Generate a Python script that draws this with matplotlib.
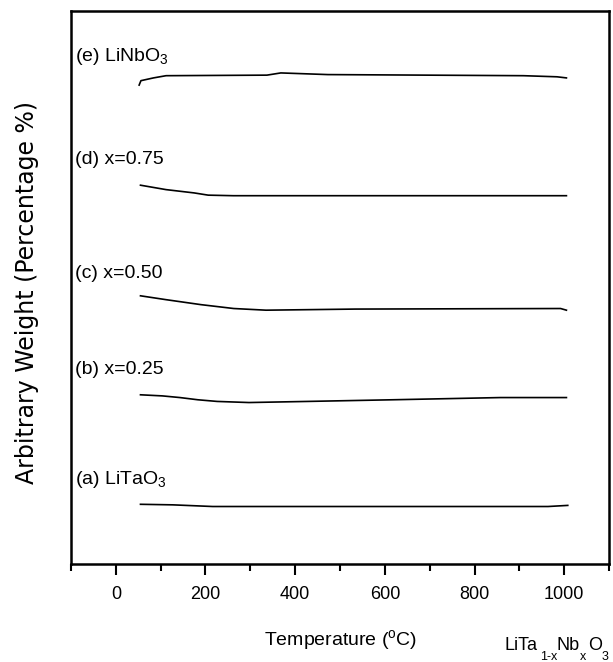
import matplotlib
matplotlib.use("Agg")
import matplotlib.pyplot as plt
from matplotlib.ticker import MultipleLocator, NullLocator

plt.rcParams["font.family"] = ["Liberation Sans", "DejaVu Sans"]
plt.rcParams["mathtext.fontset"] = "custom"
plt.rcParams["mathtext.rm"] = "Liberation Sans"

# Temperature (degC) breakpoints and arbitrary weight (stacked, arbitrary units)
T_A = [55, 127, 216, 964, 1008]
W_A = [10.8, 10.7, 10.4, 10.4, 10.6]

T_B = [55, 104, 143, 183, 226, 297, 427, 617, 858, 1005]
W_B = [30.6, 30.4, 30.1, 29.7, 29.4, 29.2, 29.4, 29.7, 30.1, 30.1]

T_C = [55, 112, 190, 263, 335, 534, 992, 1005]
W_C = [48.5, 47.8, 46.9, 46.2, 45.9, 46.1, 46.2, 45.9]

T_D = [55, 112, 175, 206, 262, 1005]
W_D = [68.5, 67.7, 67.1, 66.7, 66.6, 66.6]

T_E = [52, 56, 84, 112, 337, 368, 473, 909, 984, 1005]
W_E = [86.6, 87.4, 87.9, 88.3, 88.4, 88.8, 88.5, 88.3, 88.1, 87.9]

LABELS = [r"(a) LiTaO$_\mathregular{3}$", "(b) x=0.25", "(c) x=0.50",
          "(d) x=0.75", r"(e) LiNbO$_\mathregular{3}$"]
LABEL_Y = [15.2, 35.1, 52.6, 73.1, 91.7]

fig = plt.figure(figsize=(6.13, 6.62), dpi=100)
ax = fig.add_axes([0.1158, 0.148, 0.8777, 0.8354])

for T, W in [(T_A, W_A), (T_B, W_B), (T_C, W_C), (T_D, W_D), (T_E, W_E)]:
    ax.plot(T, W, color="black", lw=1.2)

for lab, y in zip(LABELS, LABEL_Y):
    ax.text(-92, y, lab, fontsize=14, ha="left", va="center")

ax.set_xlim(-100, 1100)
ax.set_ylim(0, 100)
ax.xaxis.set_major_locator(MultipleLocator(200))
ax.xaxis.set_minor_locator(MultipleLocator(100))
ax.yaxis.set_major_locator(NullLocator())
ax.tick_params(axis="x", which="major", direction="out", length=8, width=1.5,
               labelsize=13, pad=8)
ax.tick_params(axis="x", which="minor", direction="out", length=5, width=1.5)
for s in ax.spines.values():
    s.set_linewidth(1.8)

fig.text(27 / 613, 1 - 293 / 662, "Arbitrary Weight (Percentage %)",
         fontsize=17, rotation=90, ha="center", va="center",
         family=["DejaVu Sans"])

fig.text(341 / 613, 1 - 641 / 662, r"Temperature ($^\mathregular{o}$C)",
         fontsize=14, ha="center", va="center")

# composition label pieces: main text and lowered subscripts
for s, x, y, fs in [("LiTa", 504, 650, 13), ("1-x", 540, 660, 9),
                    ("Nb", 556, 650, 13), ("x", 580, 660, 9),
                    ("O", 588, 650, 13), ("3", 602, 660, 9)]:
    fig.text(x / 613, 1 - y / 662, s, fontsize=fs, ha="left", va="baseline")

fig.savefig("out.png", dpi=100)
